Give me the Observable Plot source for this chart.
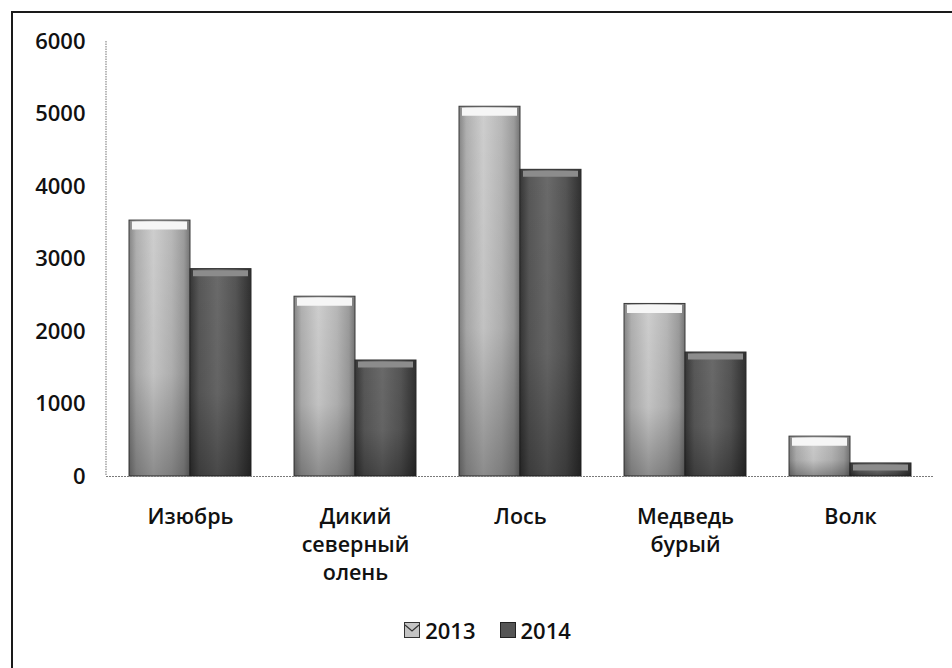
<!DOCTYPE html>
<html>
<head>
<meta charset="utf-8">
<script src="https://cdn.jsdelivr.net/npm/d3@7"></script>
<script src="https://cdn.jsdelivr.net/npm/@observablehq/plot@0.6"></script>
<style>
  html, body { margin: 0; padding: 0; background: #fff; }
  #wrap { position: relative; width: 952px; height: 668px; overflow: hidden; font-family: "Open Sans", sans-serif; color: #111; }
  #frame { position: absolute; left: 11px; top: 11px; width: 980px; height: 700px; border-left: 2px solid #1a1a1a; border-top: 2px solid #1a1a1a; }
  #chart { position: absolute; left: 0; top: 0; }
  #legend { position: absolute; top: 615px; left: 0; width: 975px; display: flex; justify-content: center; align-items: center; gap: 4px; font-size: 22px; font-weight: 600; }
  #legend .item { display: flex; align-items: center; margin: 0 10px; }
  #legend svg { margin-right: 5px; }
</style>
</head>
<body>
<div id="wrap">
  <div id="frame"></div>
  <div id="chart"></div>
  <div id="legend"></div>
</div>
<script>
const categories = ["Изюбрь", "Дикий северный олень", "Лось", "Медведь бурый", "Волк"];
const categoryLabels = ["Изюбрь", "Дикий\nсеверный\nолень", "Лось", "Медведь\nбурый", "Волк"];
const years = ["2013", "2014"];
const values2013 = [3530, 2480, 5100, 2380, 550];
const values2014 = [2860, 1600, 4230, 1710, 180];
const yTicks = [0, 1000, 2000, 3000, 4000, 5000, 6000];

const rows2013 = categories.map((c, i) => ({cat: c, year: "2013", value: values2013[i]}));
const rows2014 = categories.map((c, i) => ({cat: c, year: "2014", value: values2014[i]}));
const labelOf = new Map(categories.map((c, i) => [c, categoryLabels[i]]));

const plot = Plot.plot({
  width: 952,
  height: 600,
  marginLeft: 106,
  marginRight: 18,
  marginTop: 41,
  marginBottom: 124,
  style: {fontFamily: "Open Sans, sans-serif", color: "#111", background: "transparent"},
  fx: {domain: categories, paddingInner: 0.262, paddingOuter: 0.13, label: null},
  x: {domain: years, padding: 0, axis: null},
  y: {domain: [0, 6000], label: null, axis: null},
  marks: [
    Plot.axisY({ticks: yTicks, tickSize: 0, tickPadding: 44, fontSize: 22, fontWeight: 600, label: null, tickFormat: d => String(d), facetAnchor: "left"}),
    Plot.axisFx({anchor: "bottom", tickSize: 0, tickPadding: 28, fontSize: 21.5, fontWeight: 600, lineHeight: 1.3, label: null, tickFormat: d => labelOf.get(d)}),
    Plot.barY(rows2013, {fx: "cat", x: "year", y: "value", fill: "url(#g13)", stroke: "#3a3a3a", strokeWidth: 1}),
    Plot.barY(rows2014, {fx: "cat", x: "year", y: "value", fill: "url(#g14)", stroke: "#2a2a2a", strokeWidth: 1}),
    Plot.barY(rows2013, {fx: "cat", x: "year", y: "value", fill: "url(#shade)"}),
    Plot.barY(rows2014, {fx: "cat", x: "year", y: "value", fill: "url(#shade)"}),
    Plot.tickY(rows2013, {fx: "cat", x: "year", y: "value", stroke: "#f6f6f6", strokeWidth: 8, dy: 5, insetLeft: 3, insetRight: 3}),
    Plot.tickY(rows2014, {fx: "cat", x: "year", y: "value", stroke: "#8c8c8c", strokeWidth: 6, dy: 4, insetLeft: 3, insetRight: 3})
  ]
});

// gradients for the bar fills
const svg = d3.select(plot);
const defs = svg.insert("defs", ":first-child");
function hgrad(id, stops) {
  const g = defs.append("linearGradient").attr("id", id).attr("x1", 0).attr("x2", 1).attr("y1", 0).attr("y2", 0);
  stops.forEach(([o, c]) => g.append("stop").attr("offset", o).attr("stop-color", c));
}
hgrad("g13", [[0, "#858585"], [0.12, "#b0b0b0"], [0.4, "#cecece"], [0.7, "#b8b8b8"], [0.9, "#9c9c9c"], [1, "#757575"]]);
hgrad("g14", [[0, "#363636"], [0.15, "#585858"], [0.45, "#6a6a6a"], [0.75, "#555555"], [1, "#303030"]]);
const sh = defs.append("linearGradient").attr("id", "shade").attr("x1", 0).attr("x2", 0).attr("y1", 0).attr("y2", 1);
sh.append("stop").attr("offset", 0).attr("stop-color", "#000").attr("stop-opacity", 0);
sh.append("stop").attr("offset", 0.6).attr("stop-color", "#000").attr("stop-opacity", 0.06);
sh.append("stop").attr("offset", 1).attr("stop-color", "#000").attr("stop-opacity", 0.32);

// axis line and baseline from the plot's own scales
const y = plot.scale("y");
const y0 = y.apply(0), yTop = y.apply(6000);
const xLeft = 106, xRight = 952 - 18;
svg.append("line").attr("x1", xLeft).attr("x2", xLeft).attr("y1", yTop).attr("y2", y0)
  .attr("stroke", "#8a8a8a").attr("stroke-width", 1.2).attr("stroke-dasharray", "1.5 1");
svg.append("line").attr("x1", xLeft).attr("x2", xRight).attr("y1", y0 + 0.5).attr("y2", y0 + 0.5)
  .attr("stroke", "#7a7a7a").attr("stroke-width", 1.2).attr("stroke-dasharray", "2 1");

document.getElementById("chart").appendChild(plot);

// legend
const legend = d3.select("#legend");
const items = [{label: "2013", fill: "#c4c4c4", stroke: "#333"}, {label: "2014", fill: "#555", stroke: "#222"}];
items.forEach(it => {
  const d = legend.append("div").attr("class", "item");
  const s = d.append("svg").attr("width", 16).attr("height", 16);
  s.append("rect").attr("x", 0.5).attr("y", 0.5).attr("width", 15).attr("height", 15).attr("fill", it.fill).attr("stroke", it.stroke);
  if (it.label === "2013") s.append("path").attr("d", "M1,3 L8,9 L15,3").attr("fill", "none").attr("stroke", "#333").attr("stroke-width", 1.2);
  d.append("span").text(it.label);
});
</script>
</body>
</html>
